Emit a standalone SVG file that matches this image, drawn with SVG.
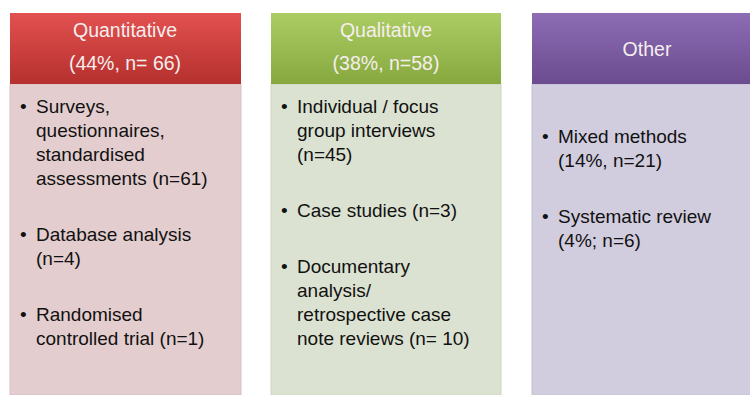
<svg xmlns="http://www.w3.org/2000/svg" width="750" height="395" viewBox="0 0 750 395">
  <defs>
    <linearGradient id="gRed" x1="0" y1="0" x2="0" y2="1">
      <stop offset="0" stop-color="#e2514f"/>
      <stop offset="1" stop-color="#b5302e"/>
    </linearGradient>
    <linearGradient id="gGreen" x1="0" y1="0" x2="0" y2="1">
      <stop offset="0" stop-color="#abcd63"/>
      <stop offset="1" stop-color="#86a83e"/>
    </linearGradient>
    <linearGradient id="gPurple" x1="0" y1="0" x2="0" y2="1">
      <stop offset="0" stop-color="#8c6cb3"/>
      <stop offset="1" stop-color="#6b4c90"/>
    </linearGradient>
  </defs>
  <style>
    text { font-family: "Liberation Sans", Arial, sans-serif; }
    .head { font-size: 19.5px; fill: #f6eeee; text-anchor: middle; }
    .body { font-size: 19px; fill: #111111; }
    .bul { font-size: 19px; fill: #111111; }
  </style>
  <rect width="750" height="395" fill="#ffffff"/>

  <g id="quantitative">
    <rect x="10" y="84" width="231" height="311" fill="#e4cdcf" stroke="#d9bfc1" stroke-width="1"/>
    <rect x="10" y="13" width="231" height="71" fill="url(#gRed)"/>
    <text class="head" x="125" y="37">Quantitative</text>
    <text class="head" x="125" y="70">(44%, n= 66)</text>
    <text class="bul" x="20" y="113">•</text>
    <text class="body" x="36" y="113">Surveys,</text>
    <text class="body" x="36" y="137">questionnaires,</text>
    <text class="body" x="36" y="161">standardised</text>
    <text class="body" x="36" y="185">assessments (n=61)</text>
    <text class="bul" x="20" y="241">•</text>
    <text class="body" x="36" y="241">Database analysis</text>
    <text class="body" x="36" y="265">(n=4)</text>
    <text class="bul" x="20" y="321">•</text>
    <text class="body" x="36" y="321">Randomised</text>
    <text class="body" x="36" y="345">controlled trial (n=1)</text>
  </g>

  <g id="qualitative">
    <rect x="271" y="84" width="230" height="311" fill="#dce2d2" stroke="#cfd6c4" stroke-width="1"/>
    <rect x="271" y="13" width="230" height="71" fill="url(#gGreen)"/>
    <text class="head" x="386" y="37">Qualitative</text>
    <text class="head" x="386" y="70">(38%, n=58)</text>
    <text class="bul" x="281" y="113">•</text>
    <text class="body" x="297" y="113">Individual / focus</text>
    <text class="body" x="297" y="137">group interviews</text>
    <text class="body" x="297" y="161">(n=45)</text>
    <text class="bul" x="281" y="217">•</text>
    <text class="body" x="297" y="217">Case studies (n=3)</text>
    <text class="bul" x="281" y="273">•</text>
    <text class="body" x="297" y="273">Documentary</text>
    <text class="body" x="297" y="297">analysis/</text>
    <text class="body" x="297" y="321">retrospective case</text>
    <text class="body" x="297" y="345">note reviews (n= 10)</text>
  </g>

  <g id="other">
    <rect x="532" y="84" width="230" height="311" fill="#d1cddf" stroke="#c4bfd5" stroke-width="1"/>
    <rect x="532" y="13" width="230" height="71" fill="url(#gPurple)"/>
    <text class="head" x="647" y="56">Other</text>
    <text class="bul" x="542" y="143">•</text>
    <text class="body" x="558" y="143">Mixed methods</text>
    <text class="body" x="558" y="167">(14%, n=21)</text>
    <text class="bul" x="542" y="223">•</text>
    <text class="body" x="558" y="223">Systematic review</text>
    <text class="body" x="558" y="247">(4%; n=6)</text>
  </g>
</svg>
